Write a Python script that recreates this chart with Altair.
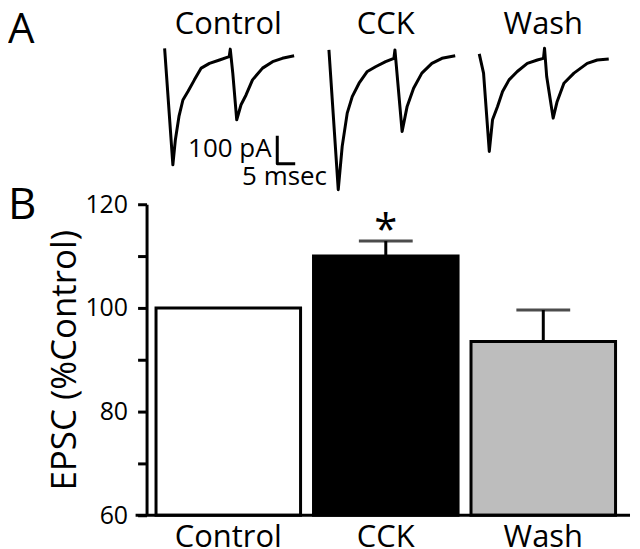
import altair as alt
import pandas as pd

# ---------------- data ----------------
conditions = ["Control", "CCK", "Wash"]
epsc_mean = [100.0, 110.0, 93.5]
epsc_sem = [0.0, 2.9, 6.1]
bar_fill = ["#ffffff", "#000000", "#bdbdbd"]

# example EPSC traces (paired pulses): time in ms within each slot, current in pA
control_t = [2.8, 5.1, 5.8, 6.8, 7.9, 9.3, 11.1, 13.0, 15.3, 18.1, 20.8, 21.1, 21.8,
             22.9, 24.1, 25.5, 27.3, 30.1, 32.9, 35.6, 38.9]
control_i = [6, -411, -321, -238, -179, -149, -107, -65, -48, -36, -24, 3, -83,
             -250, -196, -161, -107, -65, -42, -30, -21]
cck_t = [4.7, 7.3, 8.4, 9.8, 11.2, 13.1, 15.4, 17.7, 20.5, 22.8, 23.1, 25.1, 26.5,
         28.3, 30.6, 33.4, 36.2, 39.9]
cck_i = [0, -500, -345, -226, -167, -119, -77, -60, -42, -30, 0, -292, -202,
         -137, -83, -48, -30, -21]
wash_t = [2.7, 3.9, 5.5, 6.4, 7.8, 9.2, 11.0, 13.3, 16.1, 18.9, 20.6, 20.9, 21.5,
          23.3, 24.4, 26.3, 29.1, 32.8, 35.6, 38.8]
wash_i = [-14, -83, -363, -250, -202, -149, -107, -77, -48, -36, -30, 6, -95,
          -244, -185, -119, -83, -48, -36, -32]

# scale bar: 100 pA / 5 ms
scale_t = [34.2, 34.2, 39.2]
scale_i = [-307, -407, -407]

# ---------------- tables ----------------
rows = []
for name, ts, cs in [("Control", control_t, control_i),
                     ("CCK", cck_t, cck_i),
                     ("Wash", wash_t, wash_i)]:
    for k, (t, c) in enumerate(zip(ts, cs)):
        rows.append({"condition": name, "trace": name, "k": k, "t": t, "i": c})
for k, (t, c) in enumerate(zip(scale_t, scale_i)):
    rows.append({"condition": "Control", "trace": "scale", "k": k, "t": t, "i": c})
trace_df = pd.DataFrame(rows)

bars_df = pd.DataFrame({
    "condition": conditions,
    "mean": epsc_mean,
    "sem": epsc_sem,
    "fill": bar_fill,
})
bars_df["upper"] = bars_df["mean"] + bars_df["sem"]

one = pd.DataFrame({"a": [0]})

W = 480
band = alt.Scale(domain=conditions, paddingInner=0.082, paddingOuter=0.06)
FONT = "Open Sans"

# ---------------- panel A ----------------
xA = alt.X("condition:N", scale=band, sort=conditions,
           axis=alt.Axis(orient="top", title=None, domain=False, ticks=False,
                         labelAngle=0, labelFontSize=31, labelPadding=5,
                         labelBaseline="alphabetic", labelColor="black"))
offA = alt.XOffset("t:Q", scale=alt.Scale(domain=[0.4, 40.7]))
yA = alt.Y("i:Q", scale=alt.Scale(domain=[-520, 40], nice=False, zero=False), axis=None)

traces = alt.Chart(trace_df).mark_line(
    color="black", strokeWidth=3, strokeJoin="round", strokeCap="butt"
).encode(x=xA, xOffset=offA, y=yA, detail="trace:N", order="k:Q")

lab_pa = alt.Chart(pd.DataFrame({"condition": ["Control"], "t": [32.6], "i": [-382],
                                 "txt": ["100 pA"]})).mark_text(
    align="right", baseline="alphabetic", fontSize=26, color="black"
).encode(x=xA, xOffset=offA, y=yA, text="txt:N")

lab_ms = alt.Chart(pd.DataFrame({"condition": ["Control"], "t": [24.4], "i": [-482],
                                 "txt": ["5 msec"]})).mark_text(
    align="left", baseline="alphabetic", fontSize=26, color="black"
).encode(x=xA, xOffset=offA, y=yA, text="txt:N")

letterA = alt.Chart(one).mark_text(
    text="A", align="left", baseline="alphabetic", fontSize=42, color="black"
).encode(x=alt.value(-139), y=alt.value(4))

panelA = alt.layer(traces, lab_pa, lab_ms, letterA).properties(width=W, height=157)

# ---------------- panel B ----------------
yscale = alt.Scale(domain=[60, 120], nice=False, zero=False)
xB = alt.X("condition:N", scale=band, sort=conditions,
           axis=alt.Axis(title=None, domain=False, ticks=False, labelAngle=0,
                         labelFontSize=31, labelPadding=7, labelColor="black"))
yB = alt.Y("mean:Q", scale=yscale,
           axis=alt.Axis(title="EPSC (%Control)", values=[60, 70, 80, 90, 100, 110, 120],
                         labelExpr="datum.value % 20 == 0 ? datum.label : ''",
                         grid=False, domainColor="black", domainWidth=3,
                         tickColor="black", tickWidth=3, tickSize=9,
                         labelFontSize=25, labelPadding=10, labelColor="black",
                         titleFontSize=35, titleFontWeight="normal", titleColor="black",
                         titlePadding=2))

base = alt.Chart(bars_df)
bars = base.mark_bar(stroke="black", strokeWidth=3, width=145).encode(
    x=xB, y=yB, y2=alt.datum(60), fill=alt.Fill("fill:N", scale=None)
)
err = base.transform_filter("datum.sem > 0").mark_rule(color="black", strokeWidth=3).encode(
    x=xB, y=alt.Y("mean:Q", scale=yscale), y2="upper:Q"
)
caps = base.transform_filter("datum.sem > 0").mark_tick(
    color="black", thickness=3, size=54, orient="horizontal"
).encode(x=xB, y=alt.Y("upper:Q", scale=yscale))
star = base.transform_filter("datum.condition == 'CCK'").mark_text(
    text="*", fontSize=42, baseline="alphabetic", dy=3, color="black"
).encode(x=xB, y=alt.Y("upper:Q", scale=yscale))
xline = alt.Chart(one).mark_rule(color="black", strokeWidth=3).encode(
    y=alt.datum(60), x=alt.value(-11), x2=alt.value(485)
)
letterB = alt.Chart(one).mark_text(
    text="B", align="left", baseline="alphabetic", fontSize=44, color="black"
).encode(x=alt.value(-139), y=alt.value(15))

panelB = alt.layer(err, caps, bars, xline, star, letterB).properties(width=W, height=312)

chart = alt.vconcat(panelA, panelB, spacing=9, bounds="flush").properties(
    padding=0
).configure(font=FONT).configure_view(stroke=None)

chart.save("out.html", embed_options={"renderer": "svg", "actions": False})
